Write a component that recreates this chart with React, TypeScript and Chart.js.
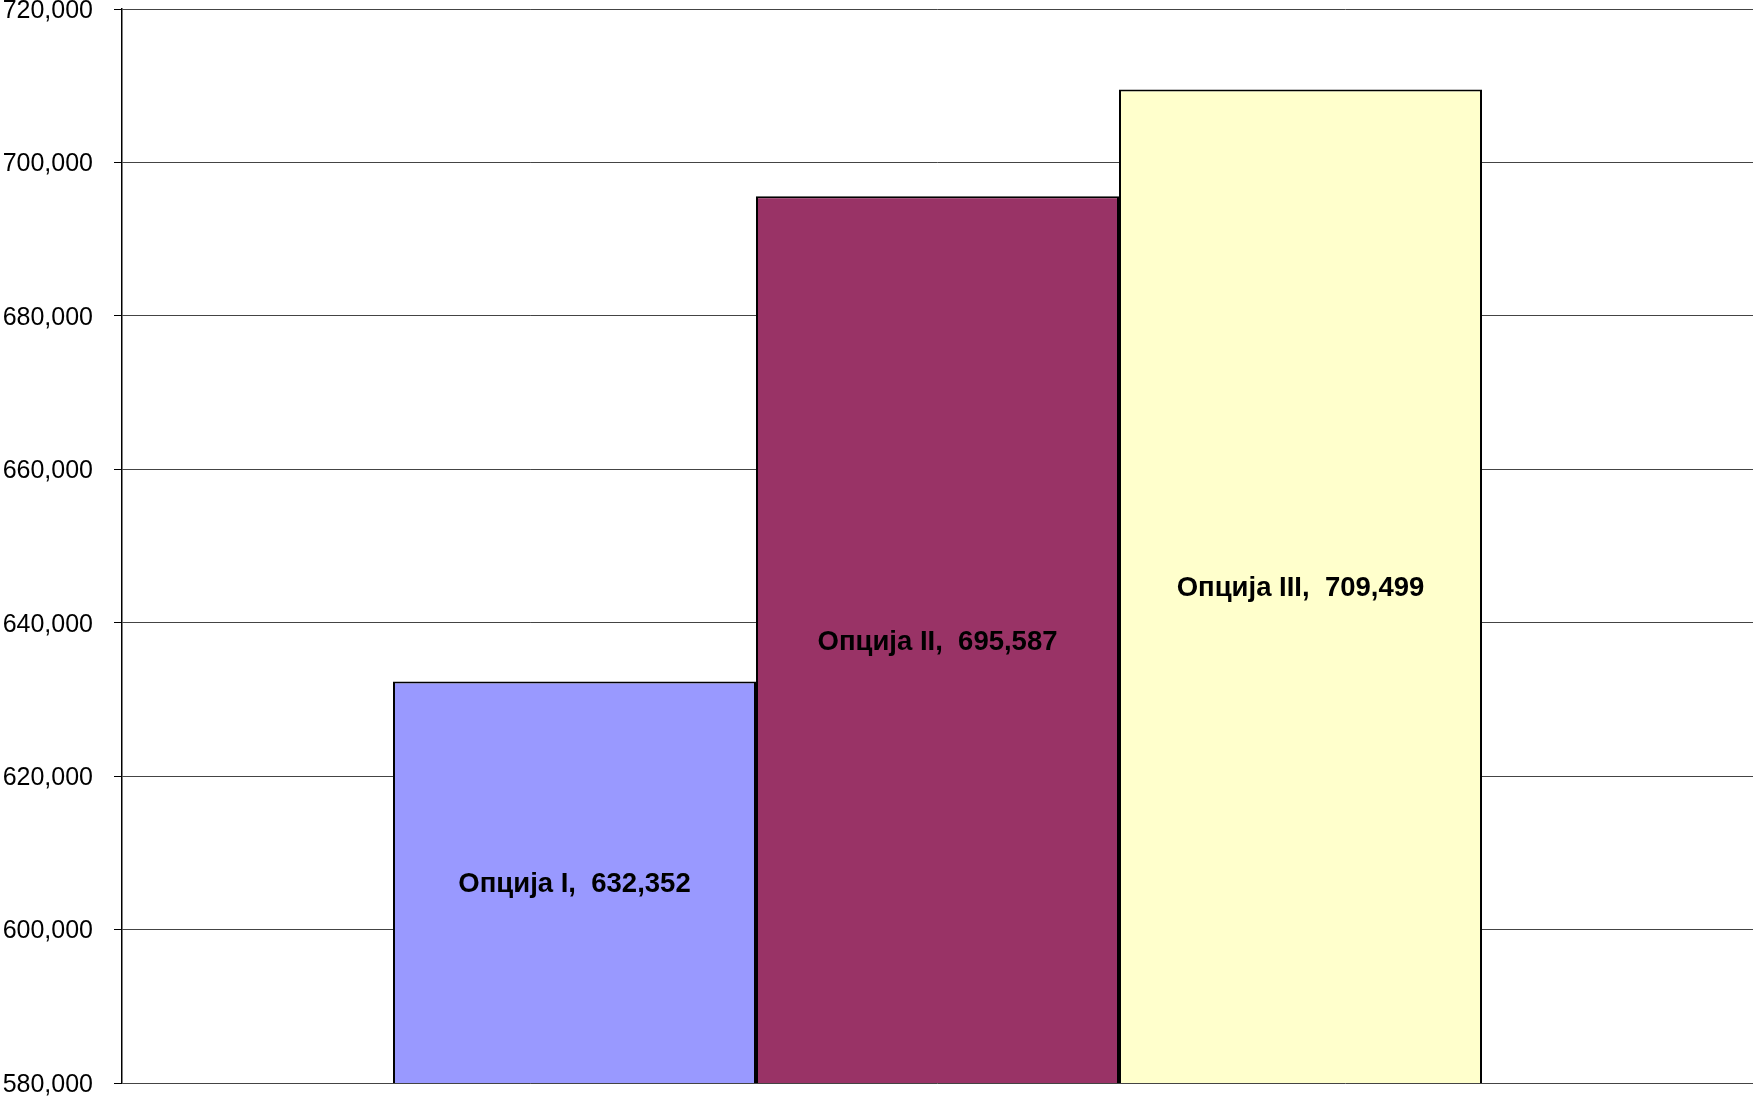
import React, { useEffect, useRef } from "react";
import { Chart, registerables } from "chart.js";

Chart.register(...registerables);

const categories = [""];
const seriesNames = ["Опција I", "Опција II", "Опција III"];
const seriesValues = [632352, 695587, 709499];
const seriesColors = ["#9999FF", "#993366", "#FFFFCC"];
const yTicks = [580000, 600000, 620000, 640000, 660000, 680000, 700000, 720000];

const CANVAS_W = 1753;
const CANVAS_H = 1146;
const OFFSET_TOP = -27;

const labelPlugin = {
  id: "barCenterLabels",
  afterDraw(chart: any) {
    const ctx = chart.ctx;
    const yScale = chart.scales.y;
    ctx.save();
    ctx.font = "bold 27.5px 'Liberation Sans', Arial, sans-serif";
    ctx.fillStyle = "#000";
    ctx.textAlign = "center";
    ctx.textBaseline = "middle";
    chart.data.datasets.forEach((ds: any, i: number) => {
      const meta = chart.getDatasetMeta(i);
      meta.data.forEach((el: any, j: number) => {
        const v = Number(ds.data[j]);
        const txt = ds.label + ",  " + v.toLocaleString("en-US");
        const top = yScale.getPixelForValue(v);
        const base = yScale.getPixelForValue(yScale.min);
        const x = typeof el.x === "number" ? el.x : chart.chartArea.left;
        ctx.fillText(txt, x, (top + base) / 2 + 2.5);
      });
    });
    ctx.restore();
  },
};

export default function App() {
  const ref = useRef<HTMLCanvasElement | null>(null);
  useEffect(() => {
    if (!ref.current) return;
    const chart = new Chart(ref.current, {
      type: "bar",
      data: {
        labels: categories,
        datasets: seriesNames.map((name, i) => ({
          label: name,
          data: [seriesValues[i]],
          backgroundColor: seriesColors[i],
          borderColor: "#000",
          borderWidth: 2,
          borderSkipped: false,
        })),
      },
      options: {
        responsive: false,
        animation: false,
        devicePixelRatio: 1,
        datasets: { bar: { categoryPercentage: 0.6677, barPercentage: 1 } },
        layout: { padding: 0 },
        plugins: { legend: { display: false }, tooltip: { enabled: false } },
        scales: {
          x: { display: false },
          y: {
            min: 580000,
            max: 720000,
            afterFit(scale: any) {
              scale.width = 122;
            },
            afterBuildTicks(scale: any) {
              scale.ticks = yTicks.map((v) => ({ value: v }));
            },
            ticks: {
              padding: 21,
              labelOffset: 2,
              color: "#000",
              font: { family: "'Liberation Sans', Arial, sans-serif", size: 25 },
              callback: (v: any) => Number(v).toLocaleString("en-US"),
            },
            grid: {
              color: "#444",
              lineWidth: 1,
              tickLength: 8,
              tickColor: "#000",
            },
            border: { color: "#000", width: 1.5 },
          },
        },
      },
      plugins: [labelPlugin],
    });
    return () => chart.destroy();
  }, []);
  return (
    <div style={{ position: "absolute", left: 0, top: 0, width: CANVAS_W, height: 1097, overflow: "hidden", background: "#fff" }}>
      <canvas ref={ref} width={CANVAS_W} height={CANVAS_H} style={{ display: "block", marginTop: OFFSET_TOP }} />
    </div>
  );
}
